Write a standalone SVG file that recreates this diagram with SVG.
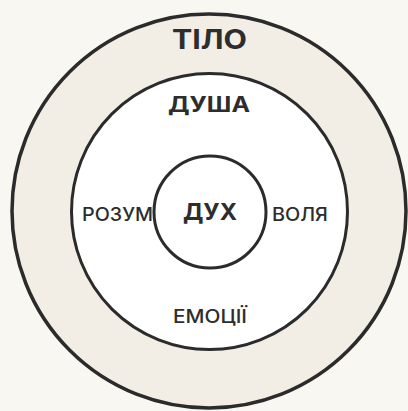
<svg xmlns="http://www.w3.org/2000/svg" width="408" height="411" viewBox="0 0 408 411">
<style>
.c{stroke:#2b2b2b;}
text{font-family:Inter,"Liberation Sans",Arial,sans-serif;fill:#2d2d2d;text-anchor:middle;}
.b{font-weight:700;}
.m{font-weight:500;}
</style>
<rect width="408" height="411" fill="#f9f7f2"/>
<g id="tilo">
<circle class="c" cx="209" cy="211" r="197" fill="#f2eee6" stroke-width="3.5"/>
<text class="b" x="209.5" y="48.5" font-size="26.5" textLength="75" lengthAdjust="spacingAndGlyphs">ТІЛО</text>
</g>
<g id="dusha">
<circle class="c" cx="209.5" cy="211.5" r="138" fill="#ffffff" stroke-width="3"/>
<text class="b" x="209" y="111.5" font-size="21" textLength="82" lengthAdjust="spacingAndGlyphs">ДУША</text>
<text class="m" x="117.5" y="220.5" font-size="18" textLength="71" lengthAdjust="spacingAndGlyphs">РОЗУМ</text>
<text class="m" x="300" y="220.5" font-size="18" textLength="56" lengthAdjust="spacingAndGlyphs">ВОЛЯ</text>
<text class="m" x="210" y="322.5" font-size="18" textLength="74" lengthAdjust="spacingAndGlyphs">ЕМОЦІЇ</text>
</g>
<g id="dukh">
<circle class="c" cx="210" cy="212" r="56" fill="#ffffff" stroke-width="3"/>
<text class="b" x="210" y="220" font-size="23.5" textLength="54" lengthAdjust="spacingAndGlyphs">ДУХ</text>
</g>
<g id="connectors"></g>
</svg>
